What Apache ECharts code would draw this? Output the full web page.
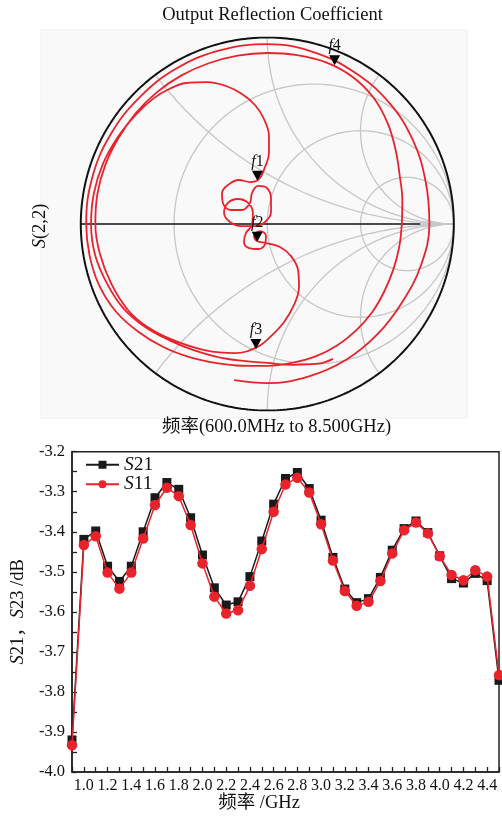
<!DOCTYPE html>
<html>
<head>
<meta charset="utf-8">
<script src="https://cdn.jsdelivr.net/npm/echarts@6/dist/echarts.min.js"></script>
<style>
html, body { margin: 0; padding: 0; background: #fff; }
#chart { width: 502px; height: 816px; }
</style>
</head>
<body>
<div id="chart"></div>
<script>
// Smith chart grid
const resistances = [1 / 3, 1, 3]
const reactances = [0.5, 1, 2]

// S(2,2), reflection coefficient [re, im], 600 MHz -> 8.5 GHz
const s22Trace = [
  // low band, outer sweep into the upper arc
  [0.352, -0.723], [0.273, -0.749], [0.133, -0.755], [0.000, -0.745], [-0.130, -0.734],
  [-0.260, -0.715], [-0.391, -0.678], [-0.524, -0.624], [-0.657, -0.551], [-0.775, -0.448],
  [-0.862, -0.314], [-0.924, -0.163], [-0.945, 0.000], [-0.930, 0.164], [-0.882, 0.321],
  [-0.803, 0.464], [-0.702, 0.589], [-0.608, 0.675], [-0.526, 0.724], [-0.436, 0.756],
  [-0.323, 0.761], [-0.221, 0.740], [-0.136, 0.697], [-0.066, 0.638], [-0.018, 0.563],
  [0.009, 0.472], [0.009, 0.381], [-0.012, 0.306], [-0.045, 0.241],
  // loops near the centre (f1 -> f2)
  [-0.093, 0.225], [-0.152, 0.236], [-0.205, 0.214], [-0.243, 0.166], [-0.238, 0.113],
  [-0.195, 0.075], [-0.136, 0.075], [-0.093, 0.113], [-0.082, 0.166], [-0.050, 0.204],
  [-0.002, 0.193], [0.020, 0.134], [0.020, 0.064], [-0.012, 0.011], [-0.071, -0.011],
  [-0.141, -0.011], [-0.200, 0.011], [-0.232, 0.059], [-0.211, 0.113], [-0.157, 0.134],
  [-0.103, 0.113], [-0.077, 0.059], [-0.082, -0.005], [-0.114, -0.048], [-0.125, -0.097],
  [-0.098, -0.129], [-0.050, -0.134], [-0.012, -0.107], [-0.007, -0.064], [-0.039, -0.038],
  [-0.071, -0.064], [-0.055, -0.091],
  // f2 -> f3
  [-0.007, -0.102], [0.068, -0.123], [0.127, -0.172], [0.165, -0.247], [0.170, -0.338],
  [0.143, -0.434], [0.090, -0.525], [0.020, -0.601], [-0.055, -0.660],
  // first outer turn
  [-0.173, -0.692], [-0.330, -0.678], [-0.504, -0.623], [-0.638, -0.555], [-0.744, -0.465],
  [-0.836, -0.321], [-0.898, -0.158], [-0.922, 0.000], [-0.911, 0.161], [-0.869, 0.316],
  [-0.798, 0.461], [-0.706, 0.593], [-0.593, 0.706], [-0.460, 0.797], [-0.314, 0.862],
  [-0.159, 0.903], [0.000, 0.917], [0.160, 0.906], [0.315, 0.867], [0.456, 0.790],
  [0.569, 0.678], [0.645, 0.541], [0.688, 0.397], [0.710, 0.259], [0.724, 0.128],
  [0.721, 0.000], [0.707, -0.125], [0.675, -0.246], [0.627, -0.362], [0.563, -0.472],
  [0.478, -0.569], [0.376, -0.650], [0.259, -0.710], [0.131, -0.745], [0.000, -0.761],
  // second outer turn
  [-0.134, -0.760], [-0.272, -0.746], [-0.413, -0.715], [-0.555, -0.661], [-0.690, -0.579],
  [-0.812, -0.469], [-0.902, -0.328], [-0.953, -0.168], [-0.971, 0.000], [-0.938, 0.251],
  [-0.838, 0.484], [-0.682, 0.682], [-0.483, 0.836], [-0.250, 0.932], [0.000, 0.965],
  [0.247, 0.922], [0.469, 0.812], [0.652, 0.652], [0.780, 0.451], [0.849, 0.228],
  [0.869, 0.000], [0.824, -0.221], [0.724, -0.418], [0.591, -0.591], [0.421, -0.729],
  [0.219, -0.818], [0.000, -0.853], [-0.178, -0.837]
]
const markerNames = ['f1', 'f2', 'f3', 'f4']
const markerPoints = [[-0.053, 0.232], [-0.054, -0.095], [-0.061, -0.670], [0.361, 0.851]]

// insertion loss curves
const freqs = [0.9, 1.0, 1.1, 1.2, 1.3, 1.4, 1.5, 1.6, 1.7, 1.8, 1.9, 2.0, 2.1, 2.2, 2.3, 2.4,
  2.5, 2.6, 2.7, 2.8, 2.9, 3.0, 3.1, 3.2, 3.3, 3.4, 3.5, 3.6, 3.7, 3.8, 3.9, 4.0, 4.1, 4.2,
  4.3, 4.4, 4.5]
const s21 = [-3.920, -3.419, -3.398, -3.486, -3.524, -3.486, -3.400, -3.315, -3.277, -3.294,
  -3.365, -3.458, -3.540, -3.583, -3.575, -3.512, -3.423, -3.331, -3.267, -3.252, -3.292,
  -3.371, -3.464, -3.543, -3.577, -3.567, -3.514, -3.446, -3.392, -3.373, -3.402, -3.460,
  -3.517, -3.528, -3.504, -3.522, -3.771]
const s11 = [-3.933, -3.433, -3.411, -3.502, -3.542, -3.502, -3.417, -3.333, -3.290, -3.311,
  -3.383, -3.479, -3.562, -3.604, -3.596, -3.535, -3.443, -3.350, -3.282, -3.265, -3.302,
  -3.381, -3.472, -3.548, -3.585, -3.575, -3.523, -3.454, -3.396, -3.377, -3.404, -3.461,
  -3.508, -3.521, -3.496, -3.512, -3.758]

const serif = "'Liberation Serif', 'Noto Sans CJK SC', serif"
const gridGrey = '#c6c6c6'
const red = '#e8232b'
const ink = '#111'

function arc(cx, cy, r, a0, a1, n) {
  const pts = []
  for (let i = 0; i <= n; i++) {
    const a = a0 + (a1 - a0) * i / n
    pts.push([cx + r * Math.cos(a), cy + r * Math.sin(a)])
  }
  return pts
}

function lineSeries(data, color, width, z) {
  return {
    type: 'line', xAxisIndex: 0, yAxisIndex: 0, data, silent: true,
    showSymbol: false, symbol: 'none', z,
    lineStyle: { color, width }, animation: false
  }
}

function smithGrid() {
  const out = []
  resistances.forEach((r) => {
    out.push(lineSeries(arc(r / (1 + r), 0, 1 / (1 + r), 0, Math.PI * 2, 200), gridGrey, 1.3, 1))
  })
  reactances.forEach((x) => {
    const a0 = Math.atan2((x * x - 1) / (x * (x * x + 1)), -2 / (x * x + 1))
    const start = a0 < 0 ? a0 + Math.PI * 2 : a0
    const pts = arc(1, 1 / x, 1 / x, start, Math.PI * 1.5, 160)
    out.push(lineSeries(pts, gridGrey, 1.3, 1))
    out.push(lineSeries(pts.map((p) => [p[0], -p[1]]), gridGrey, 1.3, 1))
  })
  out.push(lineSeries([[0.82, 0], [1, 0]], gridGrey, 1.3, 1))
  out.push(lineSeries([[-1, 0], [0.82, 0]], ink, 1.6, 2))
  out.push(lineSeries(arc(0, 0, 1, 0, Math.PI * 2, 360), ink, 2, 2))
  return out
}

const chart = echarts.init(document.getElementById('chart'), null, { renderer: 'canvas' })
const italicRich = (size) => ({ i: { fontStyle: 'italic', fontSize: size, fontFamily: serif, color: ink } })

chart.setOption({
  backgroundColor: '#fff',
  animation: false,
  textStyle: { fontFamily: serif, color: ink },
  graphic: [
    { type: 'rect', z: -10, shape: { x: 41, y: 30, width: 426, height: 388 },
      style: { fill: '#f9f9f9', stroke: '#eeeeee', lineWidth: 1 } },
    { type: 'text', x: 272.5, y: 15, style: { text: 'Output Reflection Coefficient', font: '18.5px ' + serif,
      fill: ink, align: 'center', verticalAlign: 'middle' } },
    { type: 'text', x: 40, y: 226, rotation: Math.PI / 2,
      style: { text: '{i|S}(2,2)', font: '18.5px ' + serif, fill: ink, align: 'center', verticalAlign: 'middle',
        rich: italicRich(18.5) } },
    { type: 'text', x: 276.5, y: 427, style: { text: '频率(600.0MHz to 8.500GHz)', font: '18.5px ' + serif,
      fill: ink, align: 'center', verticalAlign: 'middle' } },
    { type: 'text', x: 259, y: 803, style: { text: '频率 /GHz', font: '18.5px ' + serif,
      fill: ink, align: 'center', verticalAlign: 'middle' } }
  ],
  legend: {
    data: ['S21', 'S11'],
    orient: 'vertical',
    left: 85,
    top: 455,
    padding: 0,
    itemWidth: 33,
    itemHeight: 10,
    itemGap: 0,
    textStyle: { fontSize: 19.5, fontFamily: serif, color: ink, rich: italicRich(19.5) },
    formatter: (name) => '{i|S}' + name.slice(1)
  },
  grid: [
    { left: 80.8, top: 37.5, width: 373, height: 373 },
    { left: 72, top: 451.7, width: 429, height: 320.3, show: true, borderColor: '#222', borderWidth: 1.5,
      backgroundColor: 'transparent' }
  ],
  xAxis: [
    { gridIndex: 0, type: 'value', min: -1, max: 1, show: false },
    {
      gridIndex: 1, type: 'value', min: 0.9, max: 4.5, interval: 0.1,
      axisLine: { lineStyle: { color: '#222', width: 1.5 } },
      axisTick: { inside: true, length: 5, lineStyle: { color: '#222', width: 1.3 } },
      axisLabel: {
        fontSize: 16, color: ink, margin: 6, fontFamily: serif,
        formatter: (v) => {
          const t = Math.round(v * 10)
          return t % 2 === 0 ? (t / 10).toFixed(1) : ''
        }
      },
      splitLine: { show: false }
    }
  ],
  yAxis: [
    { gridIndex: 0, type: 'value', min: -1, max: 1, show: false },
    {
      gridIndex: 1, type: 'value', min: -4.0, max: -3.2, interval: 0.1,
      name: '{i|S}21，{i|S}23 /dB', nameLocation: 'middle', nameGap: 45,
      nameTextStyle: { fontSize: 18.5, fontFamily: serif, color: ink, rich: italicRich(18.5) },
      axisLine: { lineStyle: { color: '#222', width: 1.5 } },
      axisTick: { inside: true, length: 5, lineStyle: { color: '#222', width: 1.3 } },
      minorTick: { show: true, splitNumber: 2, length: 5, lineStyle: { color: '#222', width: 1.3 } },
      axisLabel: { fontSize: 16.5, color: ink, margin: 7, fontFamily: serif, formatter: (v) => v.toFixed(1) },
      splitLine: { show: false }
    }
  ],
  series: [
    ...smithGrid(),
    {
      type: 'line', xAxisIndex: 0, yAxisIndex: 0, data: s22Trace, smooth: 0.4,
      showSymbol: false, symbol: 'none', silent: true, z: 3,
      lineStyle: { color: red, width: 1.8 }
    },
    {
      type: 'scatter', xAxisIndex: 0, yAxisIndex: 0, z: 5,
      data: markerNames.map((n, i) => ({ name: n, value: markerPoints[i] })),
      symbol: 'triangle', symbolRotate: 180, symbolSize: [11, 10], symbolOffset: [0, -5],
      itemStyle: { color: '#000', opacity: 1 },
      label: {
        show: true, position: 'top', distance: 1, fontSize: 16, color: ink, fontFamily: serif,
        formatter: (p) => '{i|f}' + p.name.slice(1),
        rich: italicRich(16)
      }
    },
    {
      name: 'S21', type: 'line', xAxisIndex: 1, yAxisIndex: 1,
      data: freqs.map((f, i) => [f, s21[i]]),
      symbol: 'rect', symbolSize: 9, z: 4,
      lineStyle: { color: '#1a1a1a', width: 1.5 },
      itemStyle: { color: '#1a1a1a' }
    },
    {
      name: 'S11', type: 'line', xAxisIndex: 1, yAxisIndex: 1,
      data: freqs.map((f, i) => [f, s11[i]]),
      symbol: 'circle', symbolSize: 10.5, z: 5,
      lineStyle: { color: red, width: 1.5 },
      itemStyle: { color: red }
    }
  ]
})
</script>
</body>
</html>
